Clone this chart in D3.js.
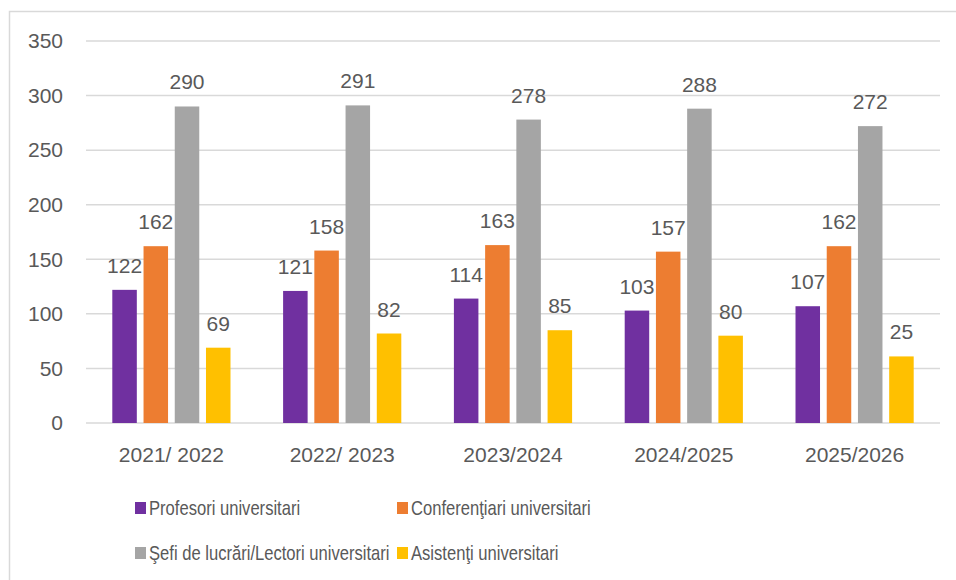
<!DOCTYPE html>
<html>
<head>
<meta charset="utf-8">
<script src="https://cdn.jsdelivr.net/npm/d3@7"></script>
<style>
body { margin: 0; background: #fff; }
text { font-family: "Liberation Sans", Arial, sans-serif; fill: #595959; }
</style>
</head>
<body>
<div id="chart"></div>
<script>
// ---------------- data ----------------
const years = ["2021/ 2022", "2022/ 2023", "2023/2024", "2024/2025", "2025/2026"];
const seriesNames = ["Profesori universitari", "Conferenţiari universitari",
                     "Şefi de lucrări/Lectori universitari", "Asistenţi universitari"];
const seriesColors = ["#7030a0", "#ed7d31", "#a5a5a5", "#ffc000"];
const profesori = [122, 121, 114, 103, 107];
const conferentiari = [162, 158, 163, 157, 162];
const sefi = [290, 291, 278, 288, 272];
const asistenti = [69, 82, 85, 80, 61];
// the source chart prints "25" over the last yellow bar
const asistentiLabels = ["69", "82", "85", "80", "25"];
const yTicks = [0, 50, 100, 150, 200, 250, 300, 350];

const values = [profesori, conferentiari, sefi, asistenti];
const labels = [profesori.map(String), conferentiari.map(String), sefi.map(String), asistentiLabels];

// ---------------- svg ----------------
const width = 956, height = 580;
const svg = d3.select("#chart").append("svg")
    .attr("width", width)
    .attr("height", height);

// chart border (runs off right/bottom edge)
svg.append("rect")
    .attr("x", 9.5).attr("y", 11.5)
    .attr("width", 960).attr("height", 580)
    .attr("fill", "none")
    .attr("stroke", "#d9d9d9")
    .attr("stroke-width", 1.5);

// ---------------- scales ----------------
const x0 = d3.scaleBand().domain(years).range([86, 940]);
const bw = x0.bandwidth();
const x1 = d3.scaleBand().domain(d3.range(4))
    .range([bw * 0.154, bw * 0.846])
    .paddingInner(0.215);
const y = d3.scaleLinear().domain([0, 350]).range([423, 41]);

// ---------------- grid + y labels ----------------
svg.append("g")
    .selectAll("line")
    .data(yTicks)
    .enter().append("line")
    .attr("x1", 86).attr("x2", 940)
    .attr("y1", d => y(d)).attr("y2", d => y(d))
    .attr("stroke", "#d9d9d9")
    .attr("stroke-width", 1.5);

svg.append("g")
    .selectAll("text")
    .data(yTicks)
    .enter().append("text")
    .attr("x", 63)
    .attr("y", d => y(d))
    .attr("dy", "0.35em")
    .attr("text-anchor", "end")
    .style("font-size", "21px")
    .text(d => d);

// ---------------- bars ----------------
const groups = svg.selectAll(".grp")
    .data(years)
    .enter().append("g")
    .attr("class", "grp")
    .attr("transform", d => "translate(" + x0(d) + ",0)");

groups.selectAll("rect")
    .data((d, i) => values.map((v, s) => ({ s: s, v: v[i], label: labels[s][i] })))
    .enter().append("rect")
    .attr("x", d => x1(d.s))
    .attr("width", x1.bandwidth())
    .attr("y", d => y(d.v))
    .attr("height", d => y(0) - y(d.v))
    .attr("fill", d => seriesColors[d.s]);

groups.selectAll("text")
    .data((d, i) => values.map((v, s) => ({ s: s, v: v[i], label: labels[s][i] })))
    .enter().append("text")
    .attr("x", d => x1(d.s) + x1.bandwidth() / 2)
    .attr("y", d => y(d.v) - 17)
    .attr("text-anchor", "middle")
    .style("font-size", "21px")
    .text(d => d.label);

// ---------------- x labels ----------------
svg.append("g")
    .selectAll("text")
    .data(years)
    .enter().append("text")
    .attr("x", d => x0(d) + bw / 2)
    .attr("y", 462)
    .attr("text-anchor", "middle")
    .style("font-size", "21px")
    .text(d => d);

// ---------------- legend ----------------
const legendPos = [[135, 502], [397, 502], [135, 547], [397, 547]];
const legend = svg.selectAll(".leg")
    .data(seriesNames)
    .enter().append("g")
    .attr("class", "leg")
    .attr("transform", (d, i) => "translate(" + legendPos[i][0] + "," + legendPos[i][1] + ")");

legend.append("rect")
    .attr("width", 11).attr("height", 12)
    .attr("fill", (d, i) => seriesColors[i]);

// narrow the text horizontally to get close to the Calibri look of the original
legend.append("text")
    .attr("transform", "translate(14,13) scale(0.83,1)")
    .style("font-size", "20px")
    .text(d => d);
</script>
</body>
</html>
